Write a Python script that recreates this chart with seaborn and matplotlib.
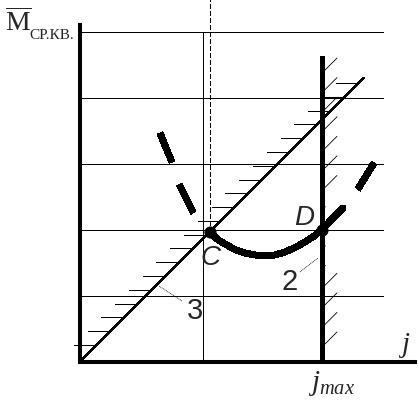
import numpy as np
import pandas as pd
import matplotlib
matplotlib.use('Agg')
import matplotlib.pyplot as plt
import seaborn as sns


# Curve 2 (M_sq vs j), in grid units
curve_left_j = [1.212, 1.303, 1.394, 1.500, 1.606, 1.712, 1.833, 1.97]
curve_left_m = [3.465, 3.238, 3.026, 2.692, 2.480, 2.268, 2.102, 1.97]
curve_mid_j = [1.97, 2.076, 2.197, 2.348, 2.500, 2.652, 2.803, 2.955, 3.106,
               3.258, 3.409, 3.545, 3.667, 3.818, 3.985]
curve_mid_m = [1.97, 1.859, 1.783, 1.700, 1.647, 1.617, 1.606, 1.617, 1.662,
               1.730, 1.814, 1.902, 2.0, 2.162, 2.329]
curve_right_j = [3.985, 4.091, 4.212, 4.333, 4.455]
curve_right_m = [2.329, 2.465, 2.617, 2.814, 3.011]

# points C and D
point_names = ['C', 'D']
point_j = [1.97, 3.667]
point_m = [1.97, 2.0]

# line 3 (M = j) and the j_max limit
diag_end = 4.3
j_max = 3.667
j_max_top = 4.63
j_c_line = 1.864

grid_levels = [1, 2, 3, 4, 5]
grid_right = 4.59

thin = 0.6

sns.set_style('white')
plt.rcParams['mathtext.fontset'] = 'custom'
plt.rcParams['mathtext.it'] = 'Liberation Serif:italic'
plt.rcParams['mathtext.rm'] = 'Liberation Serif'
plt.rcParams['lines.antialiased'] = False

fig = plt.figure(figsize=(4.19, 4.01), dpi=100)
ax = fig.add_axes([80 / 419, 39.3 / 401, 335 / 419, 336.7 / 401])
ax.set_xlim(0, 5.076)
ax.set_ylim(0, 5.102)

# grid
ax.hlines(grid_levels, 0, grid_right, colors='black', lw=thin, antialiased=False)
ax.vlines(j_c_line, 0, grid_levels[-1], colors='black', lw=thin, antialiased=False)
ax.plot([point_j[0], point_j[0]], [point_m[0], 5.48], color='black', lw=thin,
        ls=(0, (5, 2.5)), clip_on=False)

# line 3 with hatching
diag = pd.DataFrame({'j': [0, diag_end], 'M': [0, diag_end]})
sns.lineplot(data=diag, x='j', y='M', color='black', lw=1.0, ax=ax,
             sort=False, estimator=None)
for y in np.linspace(0.253, 4.223, 20):
    ax.plot([y - 0.348, y], [y, y], color='black', lw=thin, clip_on=False)

# j_max limit with hatching
ax.vlines(j_max, 0, j_max_top, colors='black', lw=2.4, antialiased=False)
for k, y in enumerate(np.linspace(0.223, 4.374, 15)):
    d = 0.05 if 4 <= k <= 7 else 0.227
    ax.plot([j_max, j_max + d], [y, y + d], color='black', lw=0.6,
            antialiased=True)

# curve 2
left = pd.DataFrame({'j': curve_left_j, 'M': curve_left_m})
mid = pd.DataFrame({'j': curve_mid_j, 'M': curve_mid_m})
right = pd.DataFrame({'j': curve_right_j, 'M': curve_right_m})
sns.lineplot(data=left, x='j', y='M', color='black', lw=4.3, ax=ax,
             sort=False, estimator=None)
ax.lines[-1].set_linestyle((0, (5.2, 3.86)))
sns.lineplot(data=mid, x='j', y='M', color='black', lw=4.3, ax=ax,
             sort=False, estimator=None)
sns.lineplot(data=right, x='j', y='M', color='black', lw=4.3, ax=ax,
             sort=False, estimator=None)
ax.lines[-1].set_linestyle((5.2, (5.2, 3.86)))
sns.scatterplot(x=point_j, y=point_m, color='black', s=65, ax=ax,
                edgecolor='black', zorder=5)

# labels
sans_it = dict(family=['Liberation Sans Narrow', 'Liberation Sans'],
               style='italic', fontsize=20, ha='center', va='center')
ax.text(1.97, 1.564, 'C', **sans_it)
ax.text(3.402, 2.177, 'D', **sans_it)
num = dict(family='Liberation Sans', fontsize=21, ha='center', va='center')
ax.text(3.182, 1.208, '2', **num)
ax.text(1.742, 0.768, '3', **num)
ax.plot([3.333, 3.606], [1.359, 1.571], color='black', lw=0.6,
        ls=(0, (1, 1)), antialiased=True)
ax.plot([1.197, 1.545], [1.147, 0.920], color='black', lw=0.6,
        ls=(0, (1, 1)), antialiased=True)

ax.text(4.909, 0.253, r'$j$', fontsize=21, ha='center', va='center',
        clip_on=False)
ax.text(3.818, -0.33, r'$j_{max}$', fontsize=21, ha='center', va='center',
        clip_on=False)
ax.text(-1.136, 5.01, r'$\overline{\mathrm{M}}$', fontsize=20, ha='left',
        va='baseline', clip_on=False)
ax.text(-0.773, 4.89, 'СР.КВ.', family='Liberation Serif', fontsize=11,
        ha='left', va='baseline', clip_on=False)

# axes
sns.despine(ax=ax)
ax.spines['left'].set_linewidth(2.9)
ax.spines['bottom'].set_linewidth(2.9)
ax.spines['left'].set_color('black')
ax.spines['bottom'].set_color('black')
ax.set_xticks([])
ax.set_yticks([])
ax.set_xlabel('')
ax.set_ylabel('')
for ln in ax.lines:
    ln.set_clip_on(False)

fig.savefig('out.png', dpi=100)
